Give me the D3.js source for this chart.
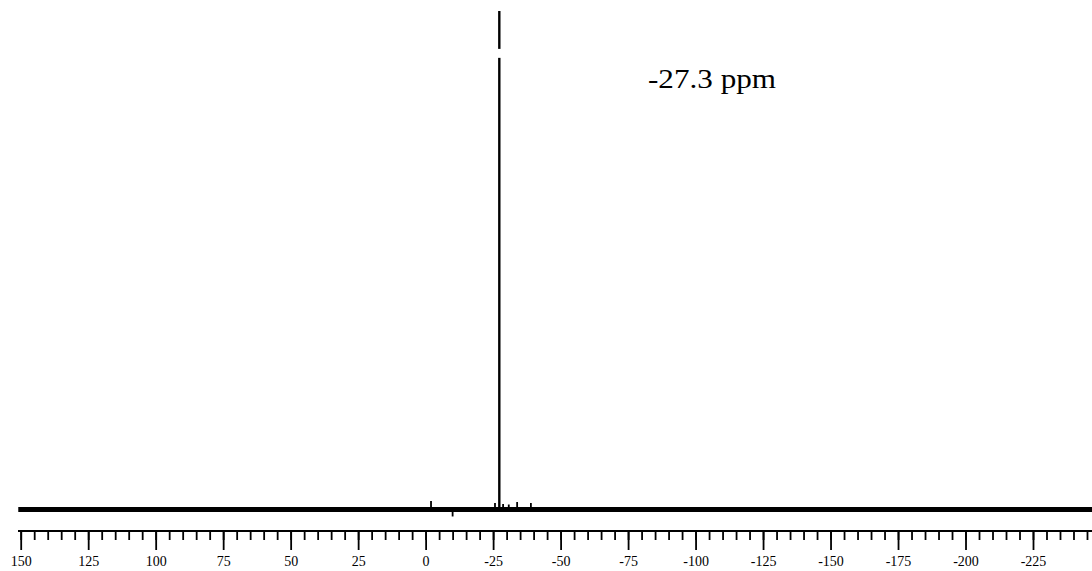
<!DOCTYPE html>
<html>
<head>
<meta charset="utf-8">
<script src="https://cdn.jsdelivr.net/npm/d3@7"></script>
<style>
  body { margin: 0; background: #fff; }
  svg { display: block; }
</style>
</head>
<body>
<svg id="chart" width="1092" height="571"></svg>
<script>
// Chemical shift range of the recorded spectrum (ppm, decreasing to the right)
const spectrumStart = 150.9;
const spectrumEnd = -246.9;

// Labelled axis ticks (ppm) and minor tick spacing
const majorTicks = [150, 125, 100, 75, 50, 25, 0, -25, -50, -75, -100, -125, -150, -175, -200, -225];
const minorStep = 5;

// Resonances: shift (ppm) and intensity (% of the main signal)
const peakShifts      = [-27.3, -2.0, -10.0, -25.7, -28.7, -30.8, -33.9, -39.0];
const peakIntensities = [100,    1.7,  -1.4,   1.3,   1.1,   1.0,   1.5,   1.3];

// Break drawn in the tall signal (intensity %, lower and upper edge)
const breakRange = [90.6, 92.4];

// Annotation of the main signal
const peakLabel = "-27.3 ppm";

const serif = "'Times New Roman', 'Liberation Serif', Times, serif";
const svg = d3.select("#chart");
const W = 1092;

const x = d3.scaleLinear().domain([150, -225]).range([20.7, 1033]);
const y = d3.scaleLinear().domain([0, 100]).range([509.5, 11]);

// Baseline band of the spectrum
svg.append("line")
  .attr("x1", x(spectrumStart)).attr("x2", x(spectrumEnd))
  .attr("y1", y(0)).attr("y2", y(0))
  .attr("stroke", "#000").attr("stroke-width", 5);

// Individual resonances
const peaks = peakShifts.map((s, i) => ({ shift: s, value: peakIntensities[i] }));
svg.append("g").selectAll("line")
  .data(peaks)
  .join("line")
  .attr("x1", d => x(d.shift)).attr("x2", d => x(d.shift))
  .attr("y1", y(0)).attr("y2", d => y(d.value))
  .attr("stroke", "#000")
  .attr("stroke-width", (d, i) => i === 0 ? 2.4 : 1.8);

// Gap in the tall signal
svg.append("line")
  .attr("x1", x(peaks[0].shift)).attr("x2", x(peaks[0].shift))
  .attr("y1", y(breakRange[0])).attr("y2", y(breakRange[1]))
  .attr("stroke", "#fff").attr("stroke-width", 4);

// Annotation
svg.append("text")
  .attr("x", 648).attr("y", 88)
  .attr("font-family", serif)
  .attr("font-size", 27)
  .attr("textLength", 128)
  .attr("lengthAdjust", "spacingAndGlyphs")
  .text(peakLabel);

// Axis: minor ticks, then labelled major ticks
const axisY = 531;
const minorTicks = d3.range(150, spectrumEnd, -minorStep);

const gMinor = svg.append("g").attr("transform", `translate(0,${axisY})`)
  .call(d3.axisBottom(x).tickValues(minorTicks).tickSize(9).tickFormat(""));
const gMajor = svg.append("g").attr("transform", `translate(0,${axisY})`)
  .call(d3.axisBottom(x).tickValues(majorTicks).tickSize(19).tickPadding(6).tickFormat(d => String(d)));

[gMinor, gMajor].forEach(g => {
  g.select(".domain").remove();
  g.selectAll(".tick line").attr("stroke", "#000").attr("stroke-width", 1.8);
});
gMajor.attr("font-family", serif).attr("font-size", 14);
gMajor.selectAll(".tick text").attr("fill", "#000");

svg.append("line")
  .attr("x1", 18).attr("x2", W)
  .attr("y1", axisY).attr("y2", axisY)
  .attr("stroke", "#000").attr("stroke-width", 2);
</script>
</body>
</html>
